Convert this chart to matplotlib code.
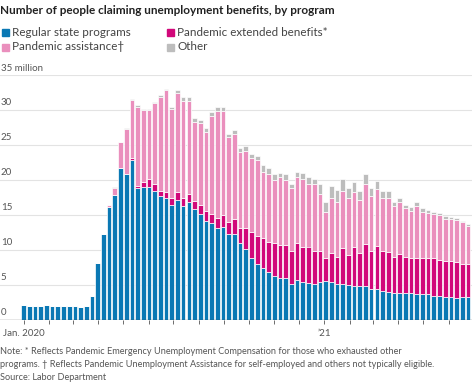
import datetime as dt
import matplotlib
matplotlib.use("Agg")
import matplotlib.pyplot as plt
from matplotlib.patches import Rectangle

plt.rcParams['font.family'] = ['Lato', 'DejaVu Sans']

# weekly values, million people, first week of Jan 2020 onward
regular = [2.14, 2.05, 2.05, 2.05, 2.1, 2.05, 2.05, 2.05, 2.05, 2.05, 1.9, 2.05,
           3.4, 8.1, 12.3, 16.2, 17.8, 21.7, 20.9, 22.9, 18.9, 19.0, 19.0, 18.5,
           17.7, 17.4, 16.4, 17.2, 16.3, 16.8, 15.8, 15.1, 14.1, 13.8, 13.1, 13.3,
           12.3, 12.3, 11.0, 10.1, 8.8, 8.0, 7.4, 6.8, 6.3, 6.0, 6.0, 5.1,
           5.7, 5.5, 5.3, 5.1, 5.4, 5.6, 5.4, 5.1, 5.1, 5.0, 4.9, 4.9,
           4.8, 4.5, 4.5, 4.1, 4.0, 3.9, 3.9, 3.8, 3.8, 3.7, 3.7, 3.7,
           3.5, 3.5, 3.3, 3.3, 3.2, 3.3, 3.3]
extended = [0] * 19 + [0.2, 0.3, 0.7, 1.1, 1.0, 0.7, 0.9, 1.1, 1.1, 1.1, 1.2,
            1.2, 1.4, 1.5, 1.4, 1.5, 1.7, 1.7, 2.1, 2.1, 3.0, 3.8, 4.0,
            4.3, 4.4, 4.7, 4.7, 4.7, 4.8, 5.3, 5.0, 5.2, 4.8, 4.5, 3.3,
            4.2, 3.9, 5.2, 4.3, 5.6, 4.7, 6.0, 5.4, 6.1, 5.7, 5.7, 5.1,
            5.5, 5.2, 5.0, 5.2, 5.1, 5.2, 5.3, 5.1, 5.1, 5.2, 5.1, 4.7, 4.7]
assistance = [0] * 15 + [0.2, 1.1, 3.7, 6.4, 8.3, 11.3, 10.25, 9.9, 11.5, 13.5,
              14.5, 12.6, 14.1, 13.9, 13.3, 11.3, 11.6, 11.2, 14.0, 15.2, 14.8,
              12.1, 12.2, 10.9, 11.1, 10.6, 10.9, 9.5, 9.7, 9.0, 9.8, 9.3, 8.9,
              9.5, 9.7, 9.0, 9.5, 8.1, 6.6, 7.9, 7.8, 8.1, 8.1, 7.8, 7.5,
              8.6, 7.8, 8.1, 7.6, 7.8, 7.3, 7.4, 7.0, 6.8, 7.4, 6.7, 6.4,
              6.3, 6.4, 6.1, 5.9, 6.0, 6.0, 5.5]
other = [0] * 15 + [0.1, 0.1, 0.1, 0.1, 0.2, 0.2, 0.15, 0.2, 0.2, 0.2, 0.2,
         0.4, 0.5, 0.5, 0.6, 0.6, 0.5, 0.6, 0.45, 0.6, 0.6, 0.5, 0.5,
         0.6, 0.7, 0.5, 0.6, 0.9, 0.8, 0.9, 0.5, 0.9, 0.7, 0.7, 0.8,
         1.0, 0.7, 1.4, 1.4, 1.6, 1.8, 1.7, 1.4, 1.4, 1.3, 1.5, 1.2,
         1.1, 1.0, 0.9, 0.6, 0.6, 0.5, 0.6, 0.6, 0.5, 0.4, 0.4, 0.3,
         0.3, 0.3, 0.3, 0.2, 0.2]

series_names = ['Regular state programs', 'Pandemic extended benefits*',
                'Pandemic assistance\u2020', 'Other']
colors = ['#0a78b4', '#d1087a', '#ea8fbd', '#bdbdbd']
y_ticks = [0, 5, 10, 15, 20, 25, 30]

start = dt.date(2020, 1, 1)
month_starts = [dt.date(2020 + (m // 12), m % 12 + 1, 1) for m in range(18)]
tick_pos = [(d - start).days / 7 * 1.01 for d in month_starts]

fig = plt.figure(figsize=(4.75, 3.84), dpi=100)
H = 384.0
ax = fig.add_axes([0.0, 1 - 320 / H, 472 / 475, 245 / H])

x = list(range(len(regular)))
bottom = [0.0] * len(x)
for vals, col in zip([regular, extended, assistance, other], colors):
    ax.bar(x, vals, bottom=bottom, width=0.82, color=col,
           edgecolor='white', linewidth=0.5, zorder=3)
    bottom = [b + v for b, v in zip(bottom, vals)]

ax.set_xlim(-4.15, 78.7)
ax.set_ylim(0, 35)
for s in ax.spines.values():
    s.set_visible(False)
ax.set_yticks([])
ax.set_xticks(tick_pos)
ax.set_xticklabels([])
ax.tick_params(axis='x', length=3, width=0.6, color='#555555', pad=1)
for v in y_ticks[1:] + [35]:
    ax.axhline(v, color='#e3e3e3', lw=0.8, zorder=1)
ax.axhline(0, color='#444444', lw=0.9, zorder=4)
for v in y_ticks:
    ax.text(-4.0, v + 0.4, str(v), ha='left', va='bottom', fontsize=7,
            color='#555555', zorder=5)
ax.text(-4.0, 35.25, '35 million', ha='left', va='bottom', fontsize=7,
        color='#555555')
ax.text(tick_pos[0], -1.3, 'Jan. 2020', ha='center', va='top', fontsize=7,
        color='#555555')
ax.text(tick_pos[12], -1.3, '\u201921', ha='center', va='top', fontsize=7,
        color='#555555')

fig.text(0.0, 1 - 11 / H, 'Number of people claiming unemployment benefits, by program',
         fontsize=8.5, fontweight='bold', color='#222222', va='center')

leg_pos = [(2, 32), (167, 32), (2, 47), (167, 47)]
for (px, py), name, col in zip(leg_pos, series_names, colors):
    fig.add_artist(Rectangle((px / 475, 1 - (py + 3.5) / H), 7 / 475, 7 / H,
                             color=col, transform=fig.transFigure))
    fig.text((px + 10) / 475, 1 - py / H, name, fontsize=8.4,
             color='#444444', va='center')

notes = ['Note: * Reflects Pandemic Emergency Unemployment Compensation for those who exhausted other',
         'programs. \u2020 Reflects Pandemic Unemployment Assistance for self-employed and others not typically eligible.',
         'Source: Labor Department']
for i, line in enumerate(notes):
    fig.text(0.0, 1 - (351 + 13.5 * i) / H, line, fontsize=6.55,
             color='#555555', va='center')

fig.savefig('out.png', dpi=100)
